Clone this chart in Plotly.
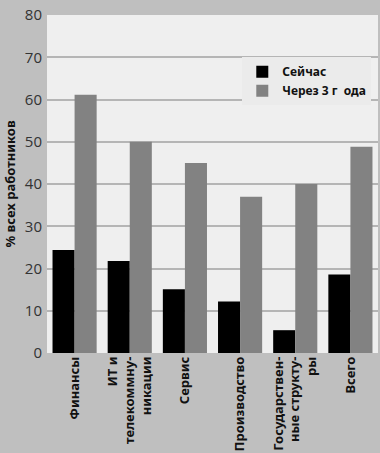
import plotly.graph_objects as go

categories = ["Финансы", "ИТ и<br>телекоммну-<br>никации", "Сервис", "Производство",
              "Государствен-<br>ные структу-<br>ры", "Всего"]
now_values = [24.4, 21.8, 15.1, 12.2, 5.4, 18.6]
future_values = [61.1, 50.0, 45.0, 37.0, 40.0, 48.8]
series_names = ["Сейчас", "Через 3 г  ода"]
y_ticks = [0, 10, 20, 30, 40, 50, 60, 70, 80]

fig = go.Figure()
fig.add_trace(go.Bar(x=categories, y=now_values, name=series_names[0],
                     marker=dict(color="#000000", line=dict(width=0))))
fig.add_trace(go.Bar(x=categories, y=future_values, name=series_names[1],
                     marker=dict(color="#828282", line=dict(width=0))))

fig.update_layout(
    width=380, height=453,
    margin=dict(l=47, r=2, t=15, b=100, autoexpand=False),
    paper_bgcolor="#bfbfbf",
    plot_bgcolor="#efefef",
    barmode="group",
    bargap=0.2,
    bargroupgap=0,
    font=dict(family="Noto Sans", color="#222222"),
    legend=dict(x=0.59, y=0.875, xanchor="left", yanchor="top",
                bgcolor="#ebebeb", borderwidth=0,
                font=dict(family="Noto Sans", size=12, color="#111111", weight="bold"),
                tracegroupgap=0, itemwidth=30),
    showlegend=True,
)
fig.update_yaxes(range=[0, 80], tickvals=y_ticks, showgrid=True, gridcolor="#b5b5b5",
                 gridwidth=2, zeroline=False, ticks="", ticklabelstandoff=4, automargin=False,
                 tickfont=dict(family="Open Sans", size=15, color="#333333"),
                 title=dict(text="% всех работников", standoff=6,
                            font=dict(family="Noto Sans", size=13, color="#111111", weight="bold")))
fig.update_xaxes(tickangle=-90, ticks="", showgrid=False, automargin=False,
                 tickfont=dict(family="Noto Sans", size=13, color="#111111", weight="bold"))

fig.write_html("out.html", config={"displayModeBar": False},
               post_script="document.body.style.margin='0';document.body.style.background='#bfbfbf';")
